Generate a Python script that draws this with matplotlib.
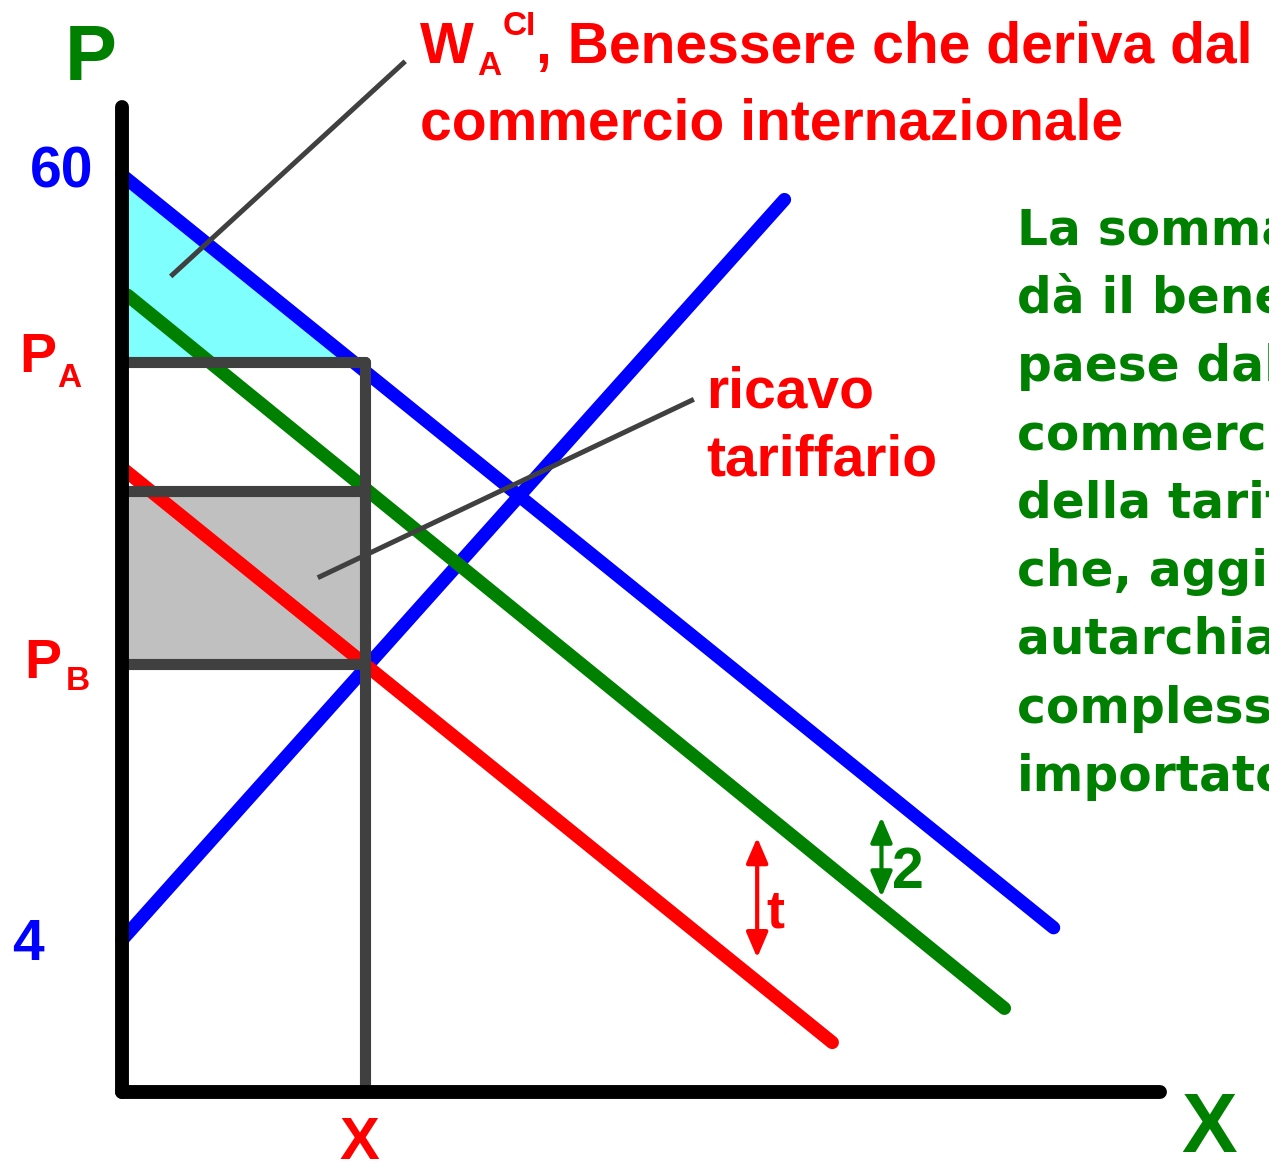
import matplotlib
matplotlib.use("Agg")
import matplotlib.pyplot as plt
import numpy as np

# rette del grafico (x = quantità, p = prezzo)
domanda_x = [0.0, 68.2]
domanda_p = [60.0, 4.9]
offerta_x = [0.0, 48.5]
offerta_p = [4.0, 58.2]
verde_x = [0.4, 64.6]
verde_p = [51.2, -1.0]
rossa_x = [0.2, 52.0]
rossa_p = [38.4, -3.5]

p_a = 46.3
p_mid = 36.9
p_b = 24.2
x_imp = 17.8

asse_x = [0.0, 76.0]
asse_p = [-7.1, 65.0]

fig = plt.figure(figsize=(12.69, 11.68), dpi=100)
ax = fig.add_axes([0, 0, 1, 1])
ax.set_xlim(-8.93, 83.97)
ax.set_ylim(-12.69, 72.81)
ax.axis("off")

# aree
pend = (domanda_p[1] - domanda_p[0]) / (domanda_x[1] - domanda_x[0])
x_int = (p_a - domanda_p[0]) / pend
xx = np.linspace(0, x_int, 50)
ax.fill_between(xx, p_a, domanda_p[0] + pend * xx, color="#80FFFF", lw=0, zorder=1)
ax.fill_between([0, x_imp], p_b, p_mid, color="#C0C0C0", lw=0, zorder=1)

kw = dict(solid_capstyle="round", zorder=3)
ax.plot(domanda_x, domanda_p, color="#0000FF", lw=9.6, **kw)
ax.plot(offerta_x, offerta_p, color="#0000FF", lw=9.6, **kw)
ax.plot(verde_x, verde_p, color="#008000", lw=9.6, **kw)
ax.plot(rossa_x, rossa_p, color="#FF0000", lw=9.6, **kw)

# rettangolo grigio
g = "#404040"
for p in [p_a, p_mid, p_b]:
    ax.plot([0, x_imp], [p, p], color=g, lw=8, zorder=4, solid_capstyle="round")
ax.plot([x_imp, x_imp], [asse_p[0], p_a], color=g, lw=8, zorder=4, solid_capstyle="round")

# assi
ax.plot([0, 0], asse_p, color="black", lw=10, zorder=5, solid_capstyle="round")
ax.plot(asse_x, [asse_p[0], asse_p[0]], color="black", lw=10, zorder=5, solid_capstyle="round")

# linee di richiamo
ax.plot([20.6, 3.7], [68.2, 52.7], color=g, lw=3.6, zorder=6)
ax.plot([41.7, 14.5], [43.5, 30.6], color=g, lw=3.6, zorder=6)

# frecce t e 2
freccia = "<|-|>,head_length=0.7,head_width=0.3"
ax.annotate("", xy=(46.5, 2.7), xytext=(46.5, 11.5),
            arrowprops=dict(arrowstyle=freccia, color="#FF0000", lw=3, mutation_scale=22,
                            shrinkA=0, shrinkB=0))
ax.annotate("", xy=(55.6, 7.15), xytext=(55.6, 13.0),
            arrowprops=dict(arrowstyle=freccia, color="#008000", lw=3, mutation_scale=22,
                            shrinkA=0, shrinkB=0))

bold = dict(family=["Liberation Sans", "DejaVu Sans"], weight="bold")

ax.text(-2.27, 66.96, "P", color="#008000", fontsize=56, ha="center", va="baseline", **bold)
ax.text(-4.39, 59.05, "60", color="#0000FF", fontsize=41, ha="center", va="baseline", **bold)
ax.text(-6.88, 2.54, "4", color="#0000FF", fontsize=41, ha="center", va="baseline", **bold)
ax.text(-6.15, 45.58, "P", color="#FF0000", fontsize=40, ha="center", va="baseline", **bold)
ax.text(-3.88, 44.48, "A", color="#FF0000", fontsize=24, ha="center", va="baseline", **bold)
ax.text(-5.78, 23.18, "P", color="#FF0000", fontsize=40, ha="center", va="baseline", **bold)
ax.text(-3.22, 22.3, "B", color="#FF0000", fontsize=24, ha="center", va="baseline", **bold)
ax.text(17.35, -12.0, "X", color="#FF0000", fontsize=43, ha="center", va="baseline", **bold)
ax.text(79.6, -11.5, "X", color="#008000", fontsize=60, ha="center", va="baseline", **bold)
ax.text(47.8, 4.88, "t", color="#FF0000", fontsize=39, ha="center", va="baseline", **bold)
ax.text(57.5, 7.8, "2", color="#008000", fontsize=41, ha="center", va="baseline", **bold)

ax.text(42.8, 43.0, "ricavo", color="#FF0000", fontsize=41, ha="left", va="baseline", **bold)
ax.text(42.8, 38.0, "tariffario", color="#FF0000", fontsize=41, ha="left", va="baseline", **bold)

# titolo
ax.text(21.8, 68.2, "W", color="#FF0000", fontsize=41, ha="left", va="baseline", **bold)
ax.text(25.99, 67.3, "A", color="#FF0000", fontsize=24, ha="left", va="baseline", **bold)
ax.text(27.9, 70.25, "CI", color="#FF0000", fontsize=24, ha="left", va="baseline", **bold)
ax.text(30.3, 68.2, ", Benessere che deriva dal", color="#FF0000", fontsize=41,
        ha="left", va="baseline", **bold)
ax.text(21.8, 62.6, "commercio internazionale", color="#FF0000", fontsize=41,
        ha="left", va="baseline", **bold)

righe = ["La somma delle due aree", "dà il beneficio netto del",
         "paese dal", "commercio in presenza", "della tariffa,",
         "che, aggiunto a quello di", "autarchia, dà il benessere",
         "complessivo del paese", "importatore"]
for i, r in enumerate(righe):
    ax.text(65.5, 54.9 - i * 5.0, r, color="#008000", fontsize=35,
            ha="left", va="baseline", family=["DejaVu Sans"], weight="bold")

fig.savefig("out.png", dpi=100)
